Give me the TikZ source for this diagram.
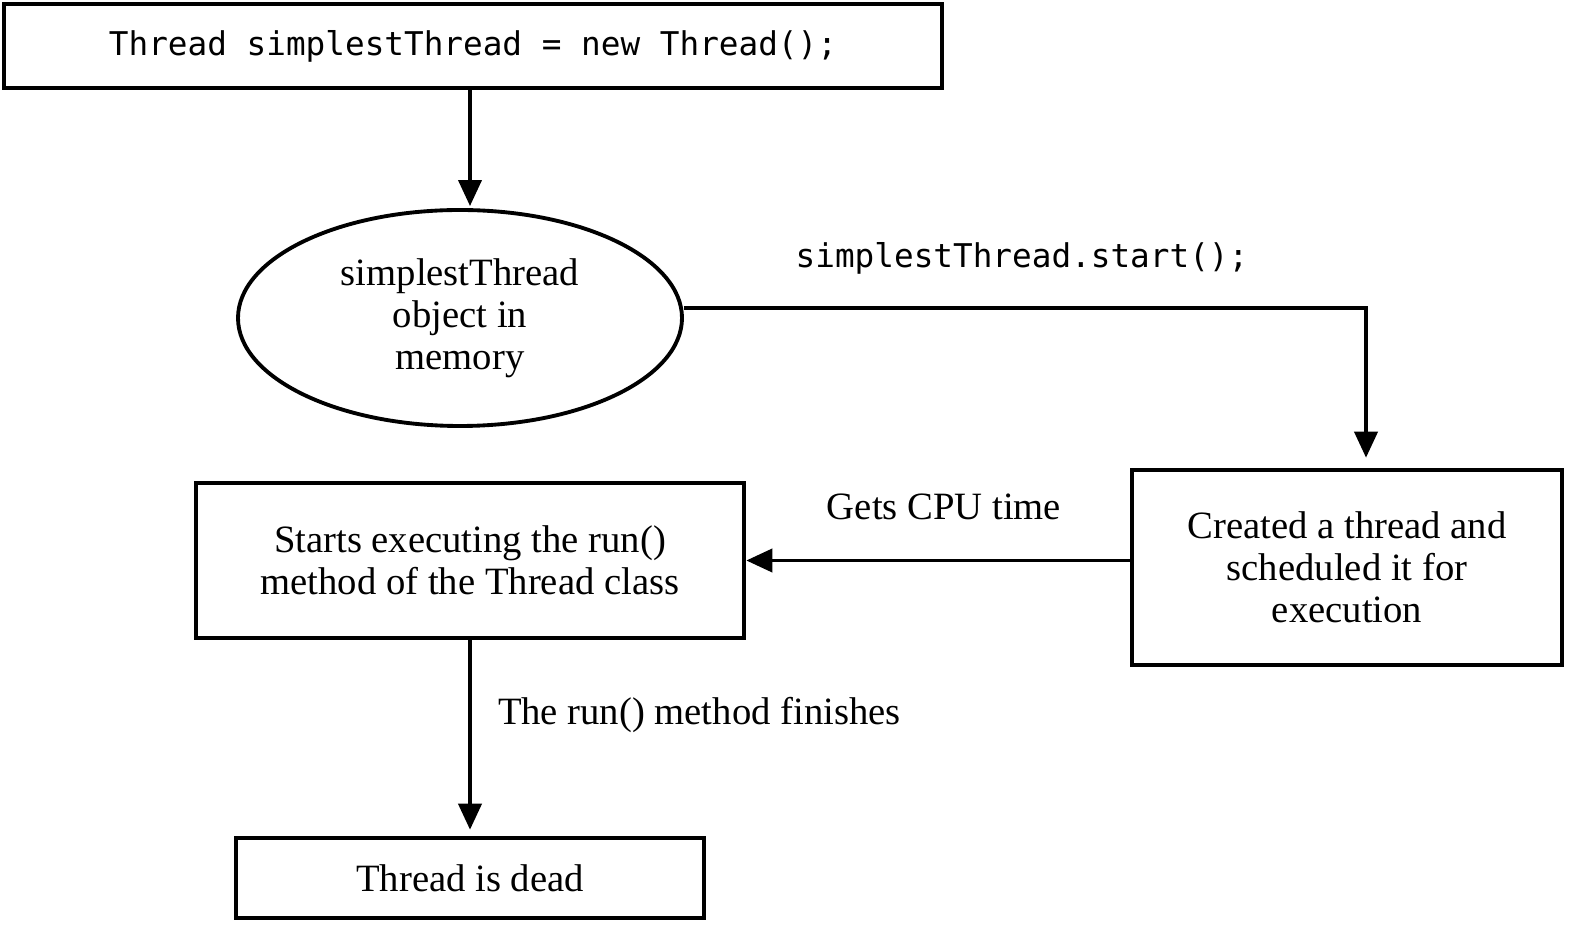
\documentclass[tikz,border=0pt]{standalone}
\usepackage{fontspec}
\setmainfont{Liberation Serif}
\setmonofont{DejaVu Sans Mono}
\usepackage{tikz}
\usetikzlibrary{arrows.meta}
\usetikzlibrary{positioning}
\usetikzlibrary{shapes.geometric}
\usetikzlibrary{calc}
\tikzset{
  statebox/.style args={#1,#2}{shape=rectangle,draw,line width=1.3pt,minimum width=#1,minimum height=#2,align=center,inner sep=0mm},
  stateoval/.style args={#1,#2}{shape=ellipse,draw,line width=1.1pt,minimum width=#1,minimum height=#2,align=center,inner sep=0mm},
  flowarrow/.style={line width=1.1pt,-{Triangle[length=2.6mm,width=2.3mm]}},
  edgelabel/.style={inner sep=0mm,outer sep=0mm}
}
\newcommand\threadtext{\fontsize{11}{12}\selectfont}
\newcommand\threadcode{\fontsize{9.3}{11}\ttfamily}

\begin{document}
\begin{tikzpicture}[every node/.style={font=\threadtext}]
\useasboundingbox (0,0) rectangle (15.94,-9.39);
\node[statebox={9.38cm,0.84cm}, font=\threadcode] (code) at (4.73,-0.46) {Thread simplestThread = new Thread();};
\node[stateoval={4.44cm,2.16cm}] (obj) at (4.60,-3.18) {simplestThread\\object in\\memory};
\node[statebox={4.30cm,1.95cm}] (sched) at (13.47,-5.675) {Created a thread and\\scheduled it for\\execution};
\node[statebox={5.48cm,1.55cm}] (run) at (4.70,-5.605) {Starts executing the run()\\method of the Thread class};
\node[statebox={4.68cm,0.80cm}] (dead) at (4.70,-8.78) {Thread is dead};
\coordinate (schedin) at ($(sched.north)+(0.19,0.1)$);
\coordinate (objout) at ($(obj.east)+(0,0.1)$);
\draw[flowarrow] (code.south -| run.north) -- ($(run.north |- obj.north)+(0,0.02)$);
\draw[flowarrow] (objout) -| (schedin);
\node[edgelabel, font=\threadcode] (startlbl) at (10.22,-2.58) {simplestThread.start();};
\draw[flowarrow] (sched.west |- run.east) -- (run.east);
\node[edgelabel] (cpulbl) at (9.44,-5.07) {Gets CPU time};
\draw[flowarrow] (run.south) -- ($(dead.north)+(0,0.06)$);
\node[edgelabel, anchor=west] (finlbl) at (4.98,-7.15) {The run() method finishes};
\end{tikzpicture}
\end{document}
